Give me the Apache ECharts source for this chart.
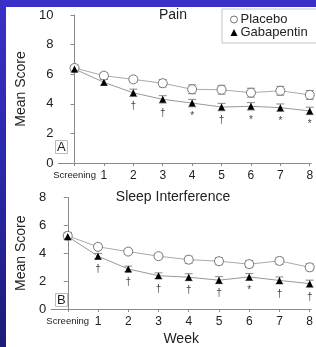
<!DOCTYPE html>
<html>
<head>
<meta charset="utf-8">
<script src="https://cdn.jsdelivr.net/npm/echarts@6/dist/echarts.min.js"></script>
<style>
html,body{margin:0;padding:0;width:316px;height:347px;overflow:hidden;}
body{background:linear-gradient(to bottom,#3a30c8 0%,#2a28a8 50%,#1c1c78 100%);position:relative;}
#chart{position:absolute;left:6px;top:7px;width:310px;height:340px;background:#fff;}
</style>
</head>
<body>
<div id="chart"></div>
<script>
// ---- data ----
const weeks = ['Screening', '1', '2', '3', '4', '5', '6', '7', '8'];
const seriesNames = ['Placebo', 'Gabapentin'];
const panelTitles = ['Pain', 'Sleep Interference'];
const panelLetters = ['A', 'B'];

const painPlacebo    = [6.42, 5.90, 5.65, 5.39, 4.98, 4.95, 4.75, 4.88, 4.60];
const painPlaceboErr = [0.20, 0.20, 0.20, 0.25, 0.30, 0.30, 0.30, 0.30, 0.30];
const painGaba       = [6.35, 5.45, 4.74, 4.30, 4.05, 3.78, 3.83, 3.74, 3.52];
const painGabaErr    = [0.20, 0.20, 0.25, 0.25, 0.25, 0.25, 0.25, 0.25, 0.25];
const painSig        = ['', '', '†', '†', '*', '†', '*', '*', '*'];

const sleepPlacebo    = [5.25, 4.46, 4.12, 3.79, 3.54, 3.43, 3.22, 3.45, 2.99];
const sleepPlaceboErr = [0.25, 0.20, 0.20, 0.20, 0.25, 0.25, 0.25, 0.25, 0.25];
const sleepGaba       = [5.20, 3.79, 2.87, 2.39, 2.28, 2.07, 2.30, 2.05, 1.82];
const sleepGabaErr    = [0.25, 0.20, 0.20, 0.20, 0.25, 0.25, 0.25, 0.25, 0.25];
const sleepSig        = ['', '†', '†', '†', '†', '†', '*', '†', '†'];

const painTicks = { max: 10, interval: 2 };
const sleepTicks = { max: 8, interval: 2 };

// ---- chart ----
const chart = echarts.init(document.getElementById('chart'), null, { renderer: 'canvas' });
const FONT = 'Liberation Sans, Arial, sans-serif';
const AX = '#8a8a8a';

function pts(arr) { return arr.map((v, i) => [i, v]); }
function errPts(arr, err) { return arr.map((v, i) => [i, v, err[i]]); }

function errRender(params, api) {
  const x = api.value(0), y = api.value(1), e = api.value(2);
  const t = api.coord([x, y + e]);
  const b = api.coord([x, y - e]);
  const w = 4;
  const st = { stroke: '#8a8a8a', lineWidth: 1 };
  return {
    type: 'group',
    children: [
      { type: 'line', shape: { x1: t[0], y1: t[1], x2: b[0], y2: b[1] }, style: st },
      { type: 'line', shape: { x1: t[0] - w, y1: t[1], x2: t[0] + w, y2: t[1] }, style: st },
      { type: 'line', shape: { x1: b[0] - w, y1: b[1], x2: b[0] + w, y2: b[1] }, style: st }
    ]
  };
}

function xAxisFor(idx, withName) {
  const vals = weeks.map((w, i) => i);
  return {
    type: 'value', gridIndex: idx, min: -0.55, max: 8.05,
    axisLine: { show: true, onZero: false, lineStyle: { color: AX, width: 1 } },
    axisTick: { show: true, customValues: vals, length: 3, lineStyle: { color: AX } },
    splitLine: { show: false },
    axisLabel: {
      customValues: vals, margin: 7, color: '#222', fontFamily: FONT,
      formatter: v => {
        const s = weeks[Math.round(v)];
        return s === 'Screening' ? '{s|' + s + '}' : '{n|' + s + '}';
      },
      rich: {
        s: { fontSize: 9.5, fontFamily: FONT, color: '#222' },
        n: { fontSize: 12, fontFamily: FONT, color: '#222' }
      }
    },
    name: withName ? 'Week' : '',
    nameLocation: 'middle', nameGap: 23,
    nameTextStyle: { fontSize: 14, fontFamily: FONT, color: '#222' }
  };
}

function yAxisFor(idx, t) {
  return {
    type: 'value', gridIndex: idx, min: 0, max: t.max, interval: t.interval,
    axisLine: { show: true, lineStyle: { color: AX, width: 1 } },
    axisTick: { show: true, length: 4, lineStyle: { color: AX } },
    splitLine: { show: false },
    axisLabel: { fontSize: 13, fontFamily: FONT, color: '#222', margin: 5 },
    name: 'Mean Score', nameLocation: 'middle', nameGap: 21,
    nameTextStyle: { fontSize: 14, fontFamily: FONT, color: '#222' }
  };
}

function panelSeries(idx, plac, placErr, gaba, gabaErr, sig) {
  return [
    { type: 'custom', name: 'errP' + idx, xAxisIndex: idx, yAxisIndex: idx,
      renderItem: errRender, data: errPts(plac, placErr), z: 1, silent: true,
      encode: { x: 0, y: 1 } },
    { type: 'custom', name: 'errG' + idx, xAxisIndex: idx, yAxisIndex: idx,
      renderItem: errRender, data: errPts(gaba, gabaErr), z: 1, silent: true,
      encode: { x: 0, y: 1 } },
    { type: 'line', name: seriesNames[0], xAxisIndex: idx, yAxisIndex: idx,
      data: pts(plac), symbol: 'circle', symbolSize: 9, z: 3,
      lineStyle: { color: '#aaaaaa', width: 1 },
      itemStyle: { color: '#ffffff', borderColor: '#777777', borderWidth: 1 } },
    { type: 'line', name: seriesNames[1], xAxisIndex: idx, yAxisIndex: idx,
      data: pts(gaba), symbol: 'triangle', symbolSize: 7, z: 4,
      lineStyle: { color: '#999999', width: 1 },
      itemStyle: { color: '#000000' },
      label: { show: true, position: 'bottom', distance: 5,
        formatter: p => sig[p.dataIndex],
        fontSize: 10, fontFamily: FONT, color: '#444' } }
  ];
}

const option = {
  animation: false,
  backgroundColor: '#ffffff',
  title: [
    { text: panelTitles[0], left: 167, top: 1, textAlign: 'center',
      textStyle: { fontSize: 14, fontWeight: 'normal', fontFamily: FONT, color: '#222' }, padding: 0 },
    { text: panelTitles[1], left: 167, top: 183, textAlign: 'center',
      textStyle: { fontSize: 14, fontWeight: 'normal', fontFamily: FONT, color: '#222' }, padding: 0 },
    { text: panelLetters[0], left: 49, top: 133, borderColor: '#bbb', borderWidth: 1, padding: [1, 2, 0, 2],
      textStyle: { fontSize: 13, fontWeight: 'normal', fontFamily: FONT, color: '#222' } },
    { text: panelLetters[1], left: 49, top: 286, borderColor: '#bbb', borderWidth: 1, padding: [1, 2, 0, 2],
      textStyle: { fontSize: 13, fontWeight: 'normal', fontFamily: FONT, color: '#222' } }
  ],
  legend: {
    data: [
      { name: seriesNames[0], icon: 'circle', itemStyle: { color: '#fff', borderColor: '#777', borderWidth: 1 } },
      { name: seriesNames[1], icon: 'triangle', itemStyle: { color: '#000' } }
    ],
    orient: 'vertical', left: 216, top: 2,
    itemWidth: 7, itemHeight: 7, itemGap: 0,
    borderColor: '#c4c4c4', borderWidth: 1, padding: [4, 10, 4, 8],
    textStyle: { fontSize: 13, fontFamily: FONT, color: '#222', lineHeight: 13, padding: [0, 0, 0, -2] }
  },
  grid: [
    { left: 38, top: 8, width: 269, height: 148 },
    { left: 38, top: 190.5, width: 269, height: 116.5 }
  ],
  xAxis: [xAxisFor(0, false), xAxisFor(1, true)],
  yAxis: [yAxisFor(0, painTicks), yAxisFor(1, sleepTicks)],
  series: [].concat(
    panelSeries(0, painPlacebo, painPlaceboErr, painGaba, painGabaErr, painSig),
    panelSeries(1, sleepPlacebo, sleepPlaceboErr, sleepGaba, sleepGabaErr, sleepSig)
  )
};
chart.setOption(option);
</script>
</body>
</html>
